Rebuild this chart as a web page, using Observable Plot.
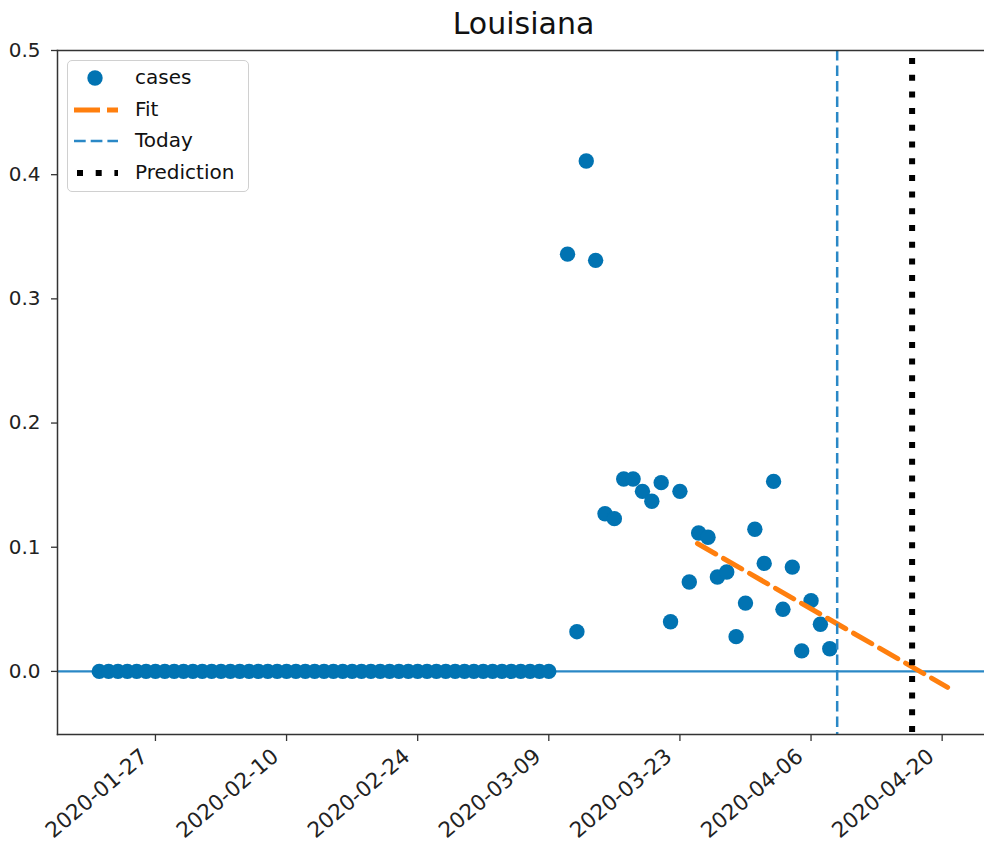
<!DOCTYPE html>
<html><head><meta charset="utf-8">
<script src="https://cdn.jsdelivr.net/npm/d3@7"></script>
<script src="https://cdn.jsdelivr.net/npm/@observablehq/plot@0.6"></script>
<style>
html,body{margin:0;padding:0;background:#fff;overflow:hidden}
#wrap{position:relative;width:984px;height:843px;font-family:"DejaVu Sans",sans-serif}
#title{position:absolute;left:57px;width:933px;top:4px;text-align:center;font-size:30px;line-height:40px;color:#111}
#legend{position:absolute;left:67px;top:60px;width:182px;height:132px;box-sizing:border-box;border:1.3px solid #d0d0d0;border-radius:5px;background:rgba(255,255,255,0.85)}
.row{position:absolute;left:0;height:30px;width:180px}
.row svg{position:absolute;left:5px;top:0}
.row span{position:absolute;left:67px;top:1px;font-size:20px;line-height:26px;white-space:nowrap;color:#111}
#chart{position:absolute;left:0;top:0}
</style></head><body>
<div id="wrap"><div id="chart"></div><div id="title"></div><div id="legend"></div></div>
<script>
const title = "Louisiana";
const startDate = "2020-01-21";
// daily values from 2020-01-21 to 2020-04-08 (null = no value for 2020-03-10)
const cases = [
  0,0,0,0,0,0,0,0,0,0,0,            // Jan 21-31
  0,0,0,0,0,0,0,0,0,0,0,0,0,0,0,0,0,0,0,0,0,0,0,0,0,0,0,0,0, // Feb 1-29
  0,0,0,0,0,0,0,0,0,                // Mar 1-9
  null,                             // Mar 10
  0.336,0.032,0.411,0.331,0.127,0.123,0.155,0.155,0.145,0.137,0.152,0.040,0.145,0.072,
  0.1115,0.108,0.076,0.080,0.028,0.055,0.1145,0.087,0.153,0.050,0.084,0.0165,0.057,0.038,0.0183
];
const fitDates = ["2020-03-24T21:00Z", "2020-04-20T14:00Z"];
const fitValues = [0.103, -0.0128];
const todayDate = "2020-04-08T19:00Z";
const predictionDate = "2020-04-16T19:00Z";
const xDomain = ["2020-01-16T13:00Z", "2020-04-24T12:30Z"];
const yDomain = [-0.0508, 0.5];
const xTicks = ["2020-01-27","2020-02-10","2020-02-24","2020-03-09","2020-03-23","2020-04-06","2020-04-20"];
const yTicks = [0, 0.1, 0.2, 0.3, 0.4, 0.5];
const legendLabels = ["cases", "Fit", "Today", "Prediction"];

const ptBlue = "#0173b2", lineBlue = "#2a88c6", orange = "#ff7f0e", spine = "#333";

const start = new Date(startDate + "T00:00Z");
const data = cases.map((v, i) => ({date: d3.utcDay.offset(start, i), value: v})).filter(d => d.value != null);
const fit = fitDates.map((d, i) => ({date: new Date(d), value: fitValues[i]}));
const xd = xDomain.map(d => new Date(d));
const xTickDates = xTicks.map(d => new Date(d + "T00:00Z"));

const chart = Plot.plot({
  width: 984, height: 843,
  marginLeft: 57, marginRight: 0, marginTop: 50, marginBottom: 109,
  style: {fontFamily: "DejaVu Sans, sans-serif", fontSize: "20px", color: "#222", background: "white"},
  x: {type: "utc", domain: xd, label: null},
  y: {domain: yDomain, label: null},
  marks: [
    Plot.ruleY([0], {stroke: lineBlue, strokeWidth: 2.2}),
    Plot.dot(data, {x: "date", y: "value", r: 7.7, fill: ptBlue, stroke: "none"}),
    Plot.line(fit, {x: "date", y: "value", stroke: orange, strokeWidth: 5, strokeDasharray: "21,9"}),
    Plot.ruleX([new Date(todayDate)], {stroke: lineBlue, strokeWidth: 2.5, strokeDasharray: "10.5,5"}),
    Plot.ruleX([new Date(predictionDate)], {stroke: "black", strokeWidth: 6, strokeDasharray: "6,10.7", strokeDashoffset: -8}),
    Plot.frame({anchor: "left", stroke: spine, strokeWidth: 1.5}),
    Plot.frame({anchor: "top", stroke: spine, strokeWidth: 1.5}),
    Plot.frame({anchor: "bottom", stroke: spine, strokeWidth: 1.5}),
    Plot.axisY({ticks: yTicks, tickFormat: d3.format(".1f"), tickSize: 6, tickPadding: 11, fontSize: 20, label: null, stroke: spine, strokeWidth: 1.3}),
    Plot.axisX({ticks: xTickDates, tickFormat: () => "", tickSize: 7, label: null, stroke: spine, strokeWidth: 1.3}),
    Plot.axisX({ticks: xTickDates, tickFormat: d3.utcFormat("%Y-%m-%d"), tickSize: 0, tickPadding: 19, dx: -11, tickRotate: -40, fontSize: 21.5, label: null})
  ]
});
document.getElementById("chart").appendChild(chart);
document.getElementById("title").textContent = title;

// legend
const leg = document.getElementById("legend");
const rowsY = [2, 33.5, 65, 96.5];
const handles = [
  `<circle cx="22" cy="15" r="7.7" fill="${ptBlue}"/>`,
  `<line x1="1" x2="45" y1="15" y2="15" stroke="${orange}" stroke-width="5" stroke-dasharray="26,7"/>`,
  `<line x1="1" x2="45" y1="15" y2="15" stroke="${lineBlue}" stroke-width="2.5" stroke-dasharray="11.7,5"/>`,
  `<line x1="4" x2="45" y1="15" y2="15" stroke="black" stroke-width="6" stroke-dasharray="6,12.7"/>`
];
legendLabels.forEach((lab, i) => {
  const row = document.createElement("div");
  row.className = "row";
  row.style.top = rowsY[i] + "px";
  row.innerHTML = `<svg width="50" height="30">${handles[i]}</svg>`;
  const s = document.createElement("span");
  s.textContent = lab;
  row.appendChild(s);
  leg.appendChild(row);
});
</script>
</body></html>
